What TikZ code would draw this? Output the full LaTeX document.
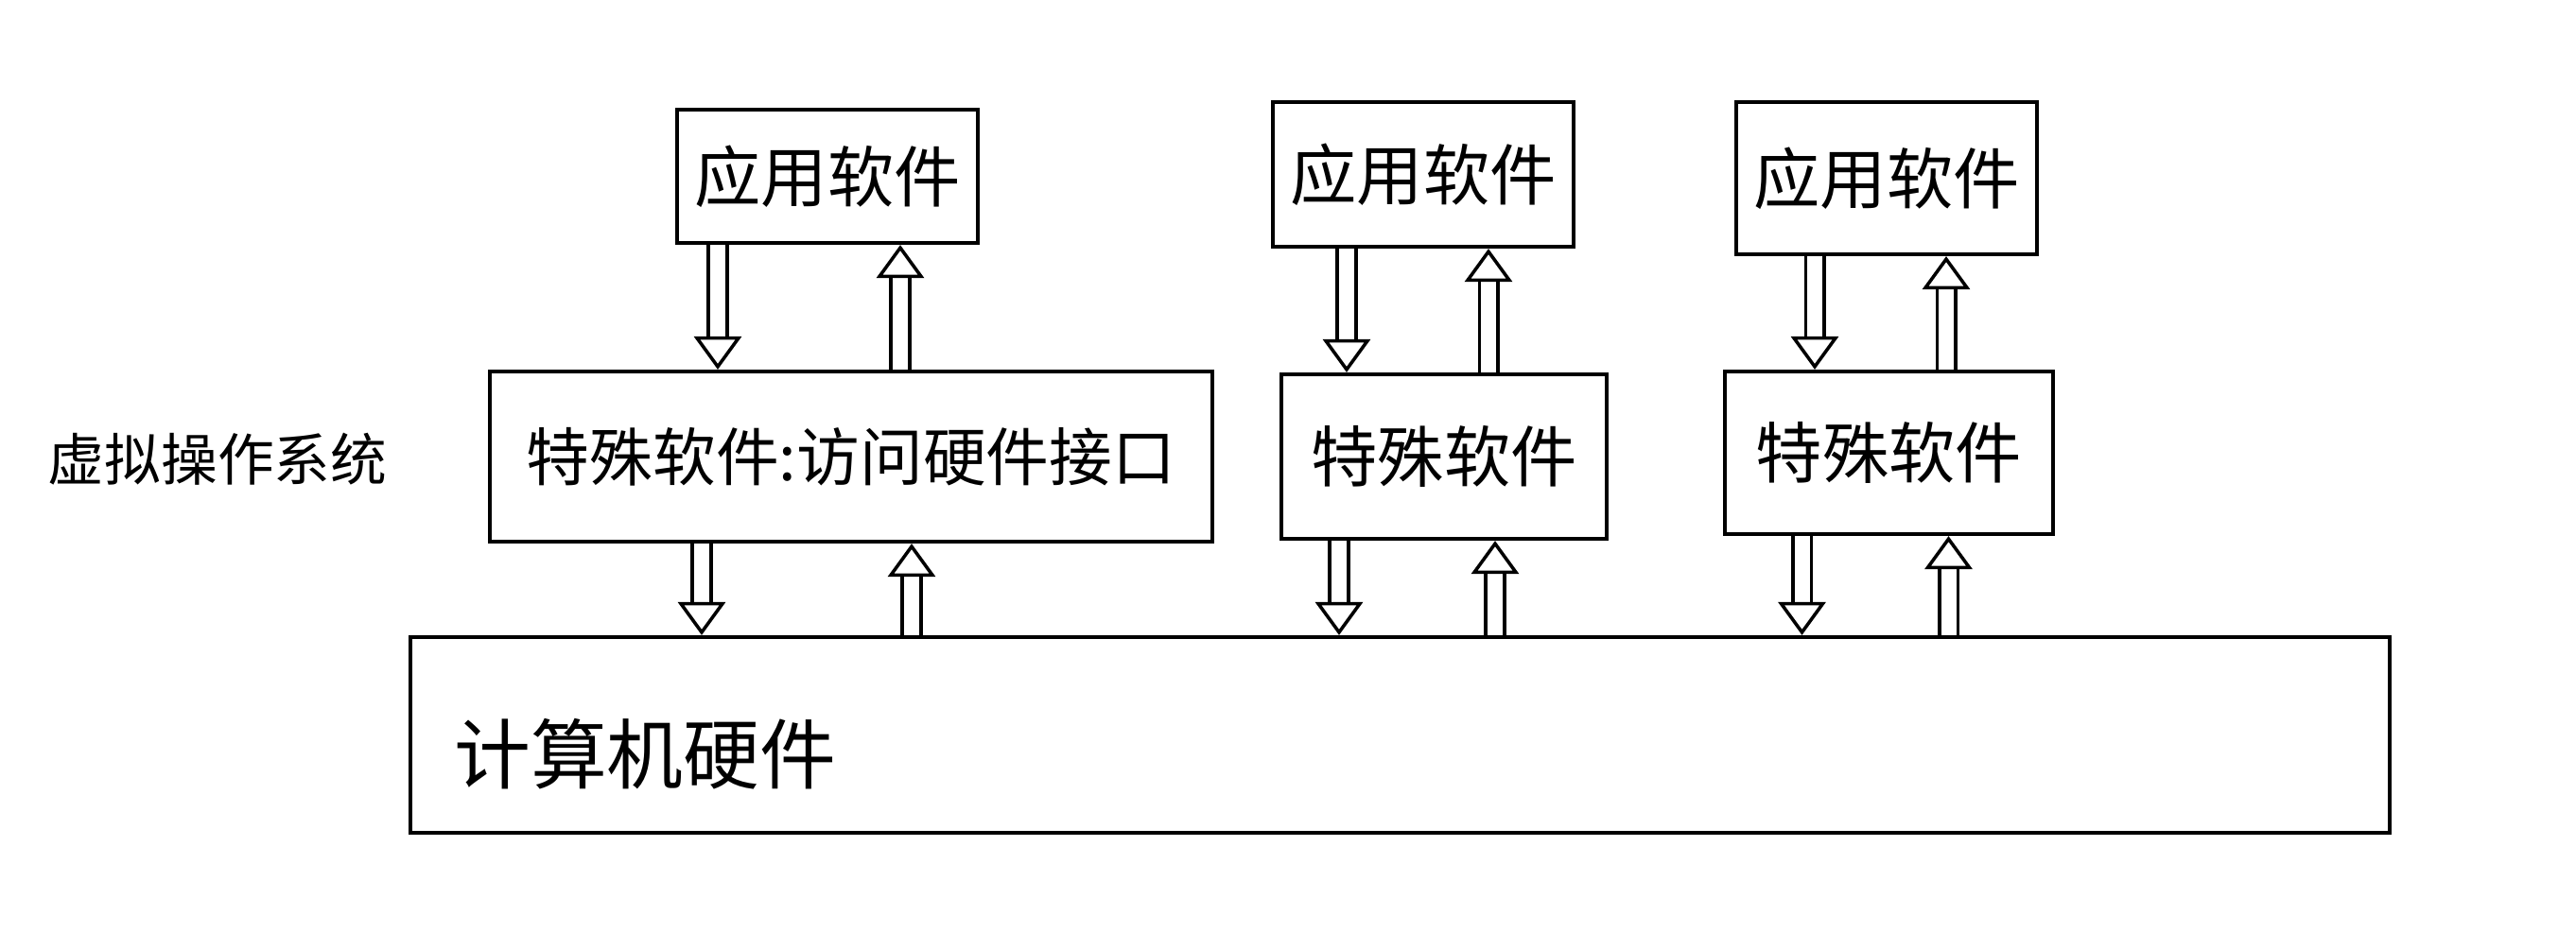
\documentclass[tikz,border=0pt]{standalone}
\usepackage{fontspec}
\setmainfont{Noto Sans CJK SC}
\usetikzlibrary{positioning,arrows.meta}

\begin{document}
\begin{tikzpicture}[
box/.style={rectangle, draw=black, line width=1.2pt, inner sep=0pt, align=center, font=\fontsize{20}{20}\selectfont},
hollow/.style={double, double distance=1.6mm, line width=1pt, -{Triangle[open, length=3.5mm, width=5mm]}},
empty/.style={font=\fontsize{17}{17}\selectfont}
]
\useasboundingbox (0,0) rectangle (27.24,-10.04);
\node[box, minimum width=3.18cm, minimum height=1.41cm](app1) at (8.75,-1.865){应用软件};
\node[box, minimum width=3.18cm, minimum height=1.53cm](app2) at (15.05,-1.845){应用软件};
\node[box, minimum width=3.18cm, minimum height=1.61cm](app3) at (19.95,-1.885){应用软件};
\node[box, minimum width=7.64cm, minimum height=1.80cm, font=\fontsize{19}{19}\selectfont](spec1) at (9.00,-4.83){特殊软件:访问硬件接口};
\node[box, minimum width=3.44cm, minimum height=1.74cm](spec2) at (15.27,-4.83){特殊软件};
\node[box, minimum width=3.47cm, minimum height=1.72cm](spec3) at (19.975,-4.79){特殊软件};
\node[box, minimum width=20.93cm, minimum height=2.07cm,
  label={[anchor=west, xshift=0.36cm, yshift=-0.2cm, font=\fontsize{23}{23}\selectfont]west:计算机硬件}](hw) at (14.805,-7.775){};
\node[empty](vos) at (2.3,-4.86){虚拟操作系统};

\draw[hollow] ([xshift=-1.16cm]app1.south) -- ([xshift=-1.16cm]app1.south |- spec1.north);
\draw[hollow] ([xshift=0.77cm]app1.south |- spec1.north) -- ([xshift=0.77cm]app1.south);
\draw[hollow] ([xshift=-0.81cm]app2.south) -- ([xshift=-0.81cm]app2.south |- spec2.north);
\draw[hollow] ([xshift=0.69cm]app2.south |- spec2.north) -- ([xshift=0.69cm]app2.south);
\draw[hollow] ([xshift=-0.76cm]app3.south) -- ([xshift=-0.76cm]app3.south |- spec3.north);
\draw[hollow] ([xshift=0.63cm]app3.south |- spec3.north) -- ([xshift=0.63cm]app3.south);

\draw[hollow] ([xshift=-1.58cm]spec1.south) -- ([xshift=-1.58cm]spec1.south |- hw.north);
\draw[hollow] ([xshift=0.64cm]spec1.south |- hw.north) -- ([xshift=0.64cm]spec1.south);
\draw[hollow] ([xshift=-1.11cm]spec2.south) -- ([xshift=-1.11cm]spec2.south |- hw.north);
\draw[hollow] ([xshift=0.54cm]spec2.south |- hw.north) -- ([xshift=0.54cm]spec2.south);
\draw[hollow] ([xshift=-0.92cm]spec3.south) -- ([xshift=-0.92cm]spec3.south |- hw.north);
\draw[hollow] ([xshift=0.63cm]spec3.south |- hw.north) -- ([xshift=0.63cm]spec3.south);

\end{tikzpicture}
\end{document}
